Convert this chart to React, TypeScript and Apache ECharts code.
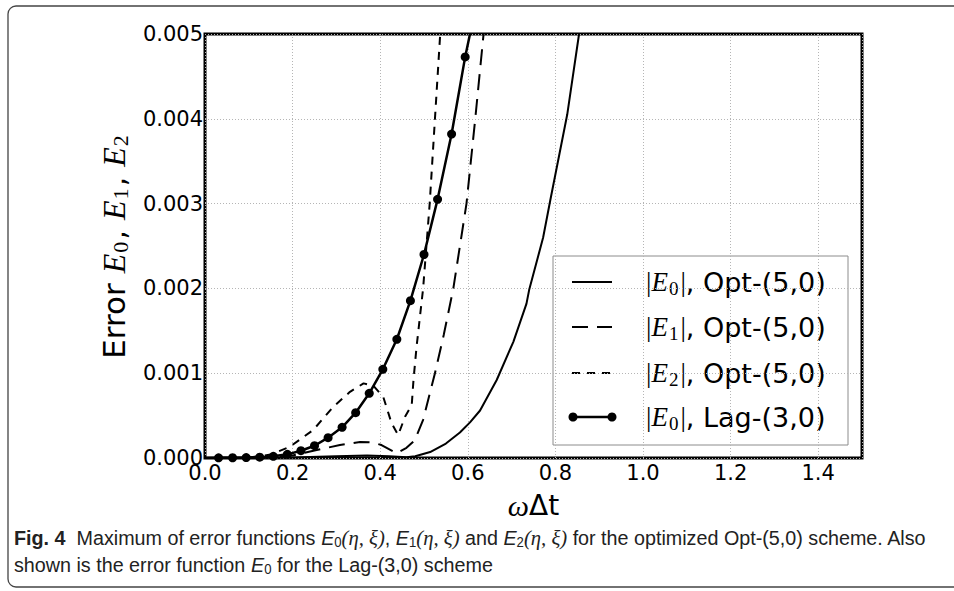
import React, { useEffect, useRef } from "react";
import * as echarts from "echarts";

// ---- Data ----
const e0OptX = [0, 0.1, 0.2, 0.3, 0.37, 0.42, 0.46, 0.48, 0.514, 0.55, 0.582, 0.605, 0.628, 0.666, 0.704, 0.734, 0.74, 0.772, 0.788, 0.827, 0.854];
const e0OptY = [0, 0, 0.000005, 0.00002, 0.00003, 0.00002, 0.000008, 0.00002, 0.00007, 0.00017, 0.0003, 0.00042, 0.00056, 0.00092, 0.00137, 0.00182, 0.00198, 0.0026, 0.00303, 0.00405, 0.005];

const e1OptX = [0, 0.1, 0.15, 0.2, 0.255, 0.308, 0.354, 0.38, 0.403, 0.438, 0.46, 0.479, 0.498, 0.525, 0.545, 0.567, 0.597, 0.617, 0.636];
const e1OptY = [0, 0, 0.00001, 0.00003, 0.000094, 0.000153, 0.00019, 0.000185, 0.000153, 0.000055, 0.00012, 0.00021, 0.00045, 0.001, 0.00145, 0.002, 0.003, 0.004, 0.005];

const e2OptX = [0, 0.1, 0.15, 0.194, 0.247, 0.293, 0.331, 0.362, 0.385, 0.407, 0.426, 0.441, 0.457, 0.472, 0.476, 0.483, 0.498, 0.513, 0.525, 0.537];
const e2OptY = [0, 0.000005, 0.00004, 0.000133, 0.00033, 0.000605, 0.00078, 0.00088, 0.00085, 0.00072, 0.00041, 0.00027, 0.00049, 0.000625, 0.00092, 0.00131, 0.002, 0.003, 0.004, 0.005];

const lagX = [0.031, 0.063, 0.094, 0.125, 0.156, 0.188, 0.219, 0.25, 0.281, 0.313, 0.344, 0.375, 0.406, 0.438, 0.469, 0.5, 0.531, 0.563, 0.594];
const lagY = [0.000002, 0.000003, 0.000005, 0.00001, 0.00002, 0.000043, 0.000086, 0.000145, 0.00024, 0.000362, 0.000534, 0.000763, 0.001046, 0.0014, 0.001855, 0.0024, 0.00305, 0.00382, 0.00473];
const lagStart = [0, 0];
const lagEnd = [0.605, 0.005];

const xTicks = ["0.0", "0.2", "0.4", "0.6", "0.8", "1.0", "1.2", "1.4"];
const legendNames = ["|E0|, Opt-(5,0)", "|E1|, Opt-(5,0)", "|E2|, Opt-(5,0)", "|E0|, Lag-(3,0)"];

const zip = (xs: number[], ys: number[]) => xs.map((x, i) => [x, ys[i]]);

const SANS = "'DejaVu Sans', sans-serif";
const SERIF = "'Liberation Serif', 'DejaVu Serif', serif";
const CAP = "'Liberation Sans', Arial, sans-serif";

export default function App() {
  const ref = useRef<HTMLDivElement>(null);

  useEffect(() => {
    if (!ref.current) return;
    const chart = echarts.init(ref.current, undefined, { renderer: "svg" });

    const lagData: any[] = [
      { value: lagStart, symbol: "none" },
      ...zip(lagX, lagY),
      { value: lagEnd, symbol: "none" },
    ];

    const mathRich = (size: number) => ({
      e: { fontFamily: SERIF, fontStyle: "italic", fontSize: size },
      s: { fontFamily: SERIF, fontSize: Math.round(size * 0.7), padding: [Math.round(size * 0.45), 2, 0, 1] },
      b: { fontFamily: SERIF, fontSize: size },
    });

    const legendX0 = 553;
    const legendY0 = 256;
    const rowYs = [282, 327, 373, 417];
    const legendLabel = (i: number) => {
      const n = legendNames[i];
      const sub = n.charAt(2);
      const rest = n.slice(4);
      return `{b||}{e|E}{s|${sub}}{b||}${rest}`;
    };

    const legendChildren: any[] = [
      {
        type: "rect",
        shape: { x: legendX0, y: legendY0, width: 295, height: 189 },
        style: { fill: "#fff", stroke: "#8c8c8c", lineWidth: 1 },
      },
    ];
    const dashes: (number[] | null)[] = [null, [16, 9], [8, 7], null];
    rowYs.forEach((y, i) => {
      legendChildren.push({
        type: "line",
        shape: { x1: 572, y1: y, x2: 612, y2: y },
        style: { stroke: "#000", lineWidth: i === 3 ? 2.5 : 2, lineDash: dashes[i] || undefined },
      });
      if (i === 3) {
        legendChildren.push({ type: "circle", shape: { cx: 573, cy: y, r: 4.5 }, style: { fill: "#000" } });
        legendChildren.push({ type: "circle", shape: { cx: 612, cy: y, r: 4.5 }, style: { fill: "#000" } });
      }
      legendChildren.push({
        type: "text",
        x: 646,
        y: y,
        style: {
          text: legendLabel(i),
          fontFamily: SANS,
          fontSize: 27,
          fill: "#000",
          verticalAlign: "middle",
          rich: mathRich(27),
        },
      });
    });

    const capRich = {
      f: { fontFamily: CAP, fontWeight: "bold", fontSize: 21 },
      e: { fontFamily: CAP, fontStyle: "italic", fontSize: 21 },
      s: { fontFamily: CAP, fontSize: 14, padding: [9, 0, 0, 0] },
      m: { fontFamily: SERIF, fontStyle: "italic", fontSize: 22 },
    };

    const option: any = {
      animation: false,
      backgroundColor: "#fff",
      grid: {
        left: 205,
        right: 92,
        top: 34,
        bottom: 133,
        show: true,
        borderColor: "#000",
        borderWidth: 3,
        backgroundColor: "transparent",
      },
      xAxis: {
        type: "value",
        min: 0,
        max: 1.5,
        interval: 0.2,
        name: "{w|ω}Δt",
        nameLocation: "middle",
        nameGap: 32,
        nameTextStyle: {
          fontFamily: SANS,
          fontSize: 28,
          color: "#000",
          rich: { w: { fontFamily: SERIF, fontStyle: "italic", fontSize: 30 } },
        },
        axisLine: { show: false },
        axisTick: { show: false },
        axisLabel: {
          color: "#000",
          fontFamily: SANS,
          fontSize: 21,
          margin: 4,
          showMaxLabel: false,
          formatter: (v: number) => {
            const s = v.toFixed(1);
            return xTicks.indexOf(s) >= 0 ? s : "";
          },
        },
        splitLine: { show: true, lineStyle: { color: "#b5b5b5", type: [1, 2], width: 1 } },
      },
      yAxis: {
        type: "value",
        min: 0,
        max: 0.005,
        interval: 0.001,
        name: "Error {e|E}{s|0}, {e|E}{s|1}, {e|E}{s|2}",
        nameLocation: "middle",
        nameRotate: 90,
        nameGap: 70,
        nameTextStyle: {
          fontFamily: SANS,
          fontSize: 31,
          color: "#000",
          rich: mathRich(32),
        },
        axisLine: { show: false },
        axisTick: { show: false },
        axisLabel: {
          color: "#000",
          fontFamily: SANS,
          fontSize: 21,
          margin: 2,
          formatter: (v: number) => v.toFixed(3),
        },
        splitLine: { show: true, lineStyle: { color: "#b5b5b5", type: [1, 2], width: 1 } },
      },
      series: [
        {
          name: legendNames[0],
          type: "line",
          data: zip(e0OptX, e0OptY),
          showSymbol: false,
          lineStyle: { color: "#000", width: 2 },
          z: 3,
        },
        {
          name: legendNames[1],
          type: "line",
          data: zip(e1OptX, e1OptY),
          showSymbol: false,
          lineStyle: { color: "#000", width: 2, type: [16, 9] },
          z: 3,
        },
        {
          name: legendNames[2],
          type: "line",
          data: zip(e2OptX, e2OptY),
          showSymbol: false,
          lineStyle: { color: "#000", width: 2, type: [8, 7] },
          z: 3,
        },
        {
          name: legendNames[3],
          type: "line",
          data: lagData,
          symbol: "circle",
          symbolSize: 9,
          showAllSymbol: true,
          itemStyle: { color: "#000" },
          lineStyle: { color: "#000", width: 2.5 },
          z: 4,
        },
      ],
      graphic: [
        {
          type: "rect",
          shape: { x: 8, y: 6, width: 1000, height: 581, r: 8 },
          style: { fill: "none", stroke: "#444", lineWidth: 1.3 },
          silent: true,
        },
        { type: "group", children: legendChildren, z: 100 },
        {
          type: "text",
          x: 14,
          y: 538,
          scaleX: 0.94,
          style: {
            text:
              "{f|Fig. 4}  Maximum of error functions {e|E}{s|0}{m|(η, ξ)}, {e|E}{s|1}{m|(η, ξ)} and {e|E}{s|2}{m|(η, ξ)} for the optimized Opt-(5,0) scheme. Also",
            fontFamily: CAP,
            fontSize: 21,
            fill: "#222",
            verticalAlign: "middle",
            rich: capRich,
          },
        },
        {
          type: "text",
          x: 14,
          y: 565,
          scaleX: 0.94,
          style: {
            text: "shown is the error function {e|E}{s|0} for the Lag-(3,0) scheme",
            fontFamily: CAP,
            fontSize: 21,
            fill: "#222",
            verticalAlign: "middle",
            rich: capRich,
          },
        },
      ],
    };

    chart.setOption(option);
    return () => chart.dispose();
  }, []);

  return (
    <div
      ref={ref}
      style={{ position: "absolute", left: 0, top: 0, width: 954, height: 591 }}
    />
  );
}
